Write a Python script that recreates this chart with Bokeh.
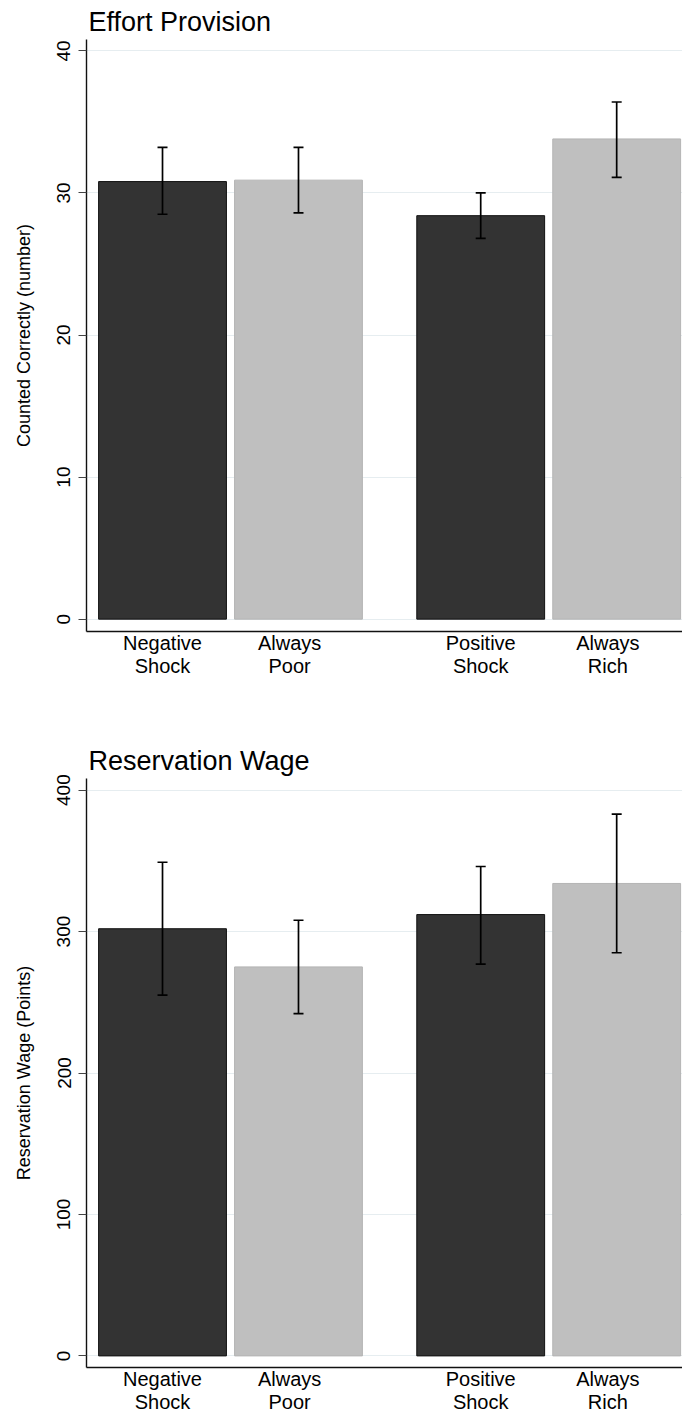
from bokeh.plotting import figure
from bokeh.models import ColumnDataSource, Whisker, TeeHead, FixedTicker, Range1d
from bokeh.layouts import column
from bokeh.embed import file_html
from bokeh.resources import INLINE

# ---------------- data ----------------
categories = ["Negative\nShock", "Always\nPoor", "Positive\nShock", "Always\nRich"]
groups = ["shock", "always", "shock", "always"]

effort_mean = [30.8, 30.9, 28.4, 33.8]
effort_lo = [28.5, 28.6, 26.8, 31.1]
effort_hi = [33.2, 33.2, 30.0, 36.4]
effort_ticks = [0, 10, 20, 30, 40]

wage_mean = [302, 275, 312, 334]
wage_lo = [255, 242, 277, 285]
wage_hi = [349, 308, 346, 383]
wage_ticks = [0, 100, 200, 300, 400]

# ---------------- layout / style ----------------
FONT = "Liberation Sans"
XPOS = [0.0, 1.0, 2.34, 3.34]          # bar slots
LABEL_SHIFT = [0.0, -0.065, 0.0, -0.065]  # Stata places 2nd labels slightly left
BAR_W = 0.94
COLORS = {"shock": "#333333", "always": "#bfbfbf"}
LINES = {"shock": "#111111", "always": "#b4b4b4"}


def make_panel(title, ylabel, mean, lo, hi, ticks, y_start, y_end,
               height, border_top, border_bottom):
    p = figure(width=682, height=height, output_backend="svg",
               toolbar_location=None,
               x_range=Range1d(-0.559, 3.824),
               y_range=Range1d(y_start, y_end),
               min_border_left=86, min_border_right=0,
               min_border_top=border_top, min_border_bottom=border_bottom)
    p.background_fill_color = "white"
    p.border_fill_color = "white"
    p.outline_line_color = None

    src = ColumnDataSource(dict(
        x=XPOS, top=mean, lo=lo, hi=hi,
        fill=[COLORS[g] for g in groups],
        line=[LINES[g] for g in groups],
    ))
    p.vbar(x="x", top="top", bottom=0, width=BAR_W, source=src,
           fill_color="fill", line_color="line", line_width=1)

    w = Whisker(base="x", upper="hi", lower="lo", source=src,
                dimension="height", line_color="black", line_width=1.7,
                level="overlay",
                upper_head=TeeHead(size=10, line_color="black", line_width=1.7),
                lower_head=TeeHead(size=10, line_color="black", line_width=1.7))
    p.add_layout(w)

    # title
    p.title.text = title
    p.title.text_font = FONT
    p.title.text_font_size = "27px"
    p.title.text_font_style = "normal"
    p.title.text_color = "black"
    p.title.align = "left"
    p.title.offset = 2
    p.title.standoff = 6

    # x axis
    label_pos = [x + s for x, s in zip(XPOS, LABEL_SHIFT)]
    p.xaxis.ticker = FixedTicker(ticks=label_pos)
    p.xaxis.major_label_overrides = {pos: c for pos, c in zip(label_pos, categories)}
    p.xaxis.major_tick_out = 0
    p.xaxis.major_tick_in = 0
    p.xaxis.minor_tick_out = 0
    p.xaxis.minor_tick_in = 0
    p.xaxis.major_label_standoff = 0
    p.xaxis.major_label_text_font = FONT
    p.xaxis.major_label_text_font_size = "20px"
    p.xaxis.major_label_text_line_height = 1.08
    p.xaxis.major_label_text_color = "black"
    p.xaxis.axis_line_color = "#111111"
    p.xaxis.axis_line_width = 1.4
    p.xgrid.visible = False

    # y axis
    p.yaxis.ticker = FixedTicker(ticks=ticks)
    p.yaxis.axis_label = ylabel
    p.yaxis.axis_label_text_font = FONT
    p.yaxis.axis_label_text_font_size = "18px"
    p.yaxis.axis_label_text_font_style = "normal"
    p.yaxis.axis_label_text_color = "black"
    p.yaxis.axis_label_standoff = 21
    p.yaxis.major_label_orientation = "vertical"
    p.yaxis.major_label_text_font = FONT
    p.yaxis.major_label_text_font_size = "19px"
    p.yaxis.major_label_text_color = "black"
    p.yaxis.major_label_standoff = 8
    p.yaxis.major_tick_out = 8
    p.yaxis.major_tick_in = 0
    p.yaxis.minor_tick_out = 0
    p.yaxis.minor_tick_in = 0
    p.yaxis.major_tick_line_color = "#444444"
    p.yaxis.axis_line_color = "#111111"
    p.yaxis.axis_line_width = 1.4
    p.ygrid.ticker = FixedTicker(ticks=ticks)
    p.ygrid.grid_line_color = "#e6edf0"
    p.ygrid.grid_line_width = 1.2
    return p


p1 = make_panel("Effort Provision", "Counted Correctly (number)",
                effort_mean, effort_lo, effort_hi, effort_ticks,
                -0.87, 40.8, height=739, border_top=39, border_bottom=108)
p2 = make_panel("Reservation Wage", "Reservation Wage (Points)",
                wage_mean, wage_lo, wage_hi, wage_ticks,
                -8.2, 408.2, height=677, border_top=39, border_bottom=47)

layout = column(p1, p2, spacing=0)
open("out.html", "w").write(file_html(layout, INLINE))
